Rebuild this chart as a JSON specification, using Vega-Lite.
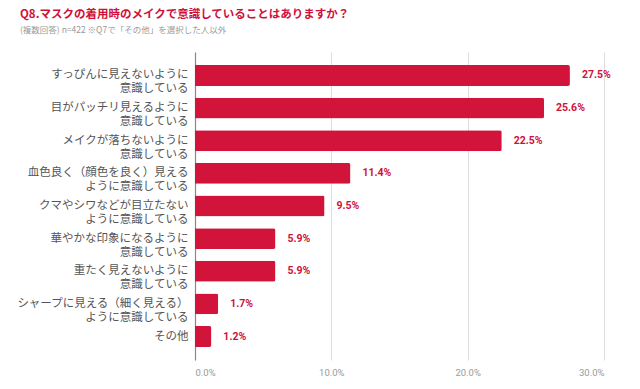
{
  "$schema": "https://vega.github.io/schema/vega-lite/v6.json",
  "width": 409,
  "height": 308,
  "autosize": {"type": "none"},
  "padding": {"left": 195, "top": 52, "right": 36, "bottom": 29},
  "background": "white",
  "title": {
    "text": "Q8.マスクの着用時のメイクで意識していることはありますか？",
    "subtitle": "(複数回答) n=422 ※Q7で「その他」を選択した人以外",
    "anchor": "start",
    "frame": "group",
    "dx": -175,
    "offset": 18,
    "font": "Noto Sans CJK JP",
    "fontSize": 11.5,
    "fontWeight": "bold",
    "color": "#d0103a",
    "subtitleFont": "Noto Sans CJK JP",
    "subtitleFontSize": 8.5,
    "subtitleColor": "#999999",
    "subtitlePadding": 5
  },
  "config": {
    "view": {"stroke": null},
    "font": "Noto Sans CJK JP"
  },
  "data": {
    "values": [
      {"order": 1, "label": "すっぴんに見えないように\n意識している", "value": 27.5},
      {"order": 2, "label": "目がパッチリ見えるように\n意識している", "value": 25.6},
      {"order": 3, "label": "メイクが落ちないように\n意識している", "value": 22.5},
      {"order": 4, "label": "血色良く（顔色を良く）見える\nように意識している", "value": 11.4},
      {"order": 5, "label": "クマやシワなどが目立たない\nように意識している", "value": 9.5},
      {"order": 6, "label": "華やかな印象になるように\n意識している", "value": 5.9},
      {"order": 7, "label": "重たく見えないように\n意識している", "value": 5.9},
      {"order": 8, "label": "シャープに見える（細く見える）\nように意識している", "value": 1.7},
      {"order": 9, "label": "その他", "value": 1.2}
    ]
  },
  "encoding": {
    "y": {
      "field": "label",
      "type": "nominal",
      "sort": {"field": "order", "op": "min", "order": "ascending"},
      "scale": {"paddingInner": 0.36, "paddingOuter": 0.4},
      "axis": {
        "title": null,
        "ticks": false,
        "labelExpr": "split(datum.label, '\\n')",
        "labelFont": "Noto Sans CJK JP",
        "labelFontSize": 11.5,
        "labelColor": "#555555",
        "labelLineHeight": 14,
        "labelPadding": 7,
        "labelLimit": 200,
        "domainColor": "#888888",
        "domainWidth": 1.2
      }
    },
    "x": {
      "field": "value",
      "type": "quantitative",
      "scale": {"domain": [0, 30], "nice": false},
      "axis": {
        "title": null,
        "values": [0, 10, 20, 30],
        "labelExpr": "format(datum.value, '.1f') + '%'",
        "ticks": false,
        "domain": false,
        "grid": true,
        "gridColor": "#dddddd",
        "labelFont": "Roboto",
        "labelFontSize": 9.5,
        "labelColor": "#999999",
        "labelPadding": 7
      }
    }
  },
  "layer": [
    {
      "mark": {"type": "bar", "color": "#d2143a", "cornerRadiusEnd": 2}
    },
    {
      "transform": [
        {"calculate": "format(datum.value, '.1f') + '%'", "as": "valueText"}
      ],
      "mark": {"type": "text", "align": "left", "dx": 12, "font": "Roboto", "fontSize": 10.5, "fontWeight": "bold", "color": "#d0103a"},
      "encoding": {
        "text": {"field": "valueText", "type": "nominal"}
      }
    }
  ]
}
